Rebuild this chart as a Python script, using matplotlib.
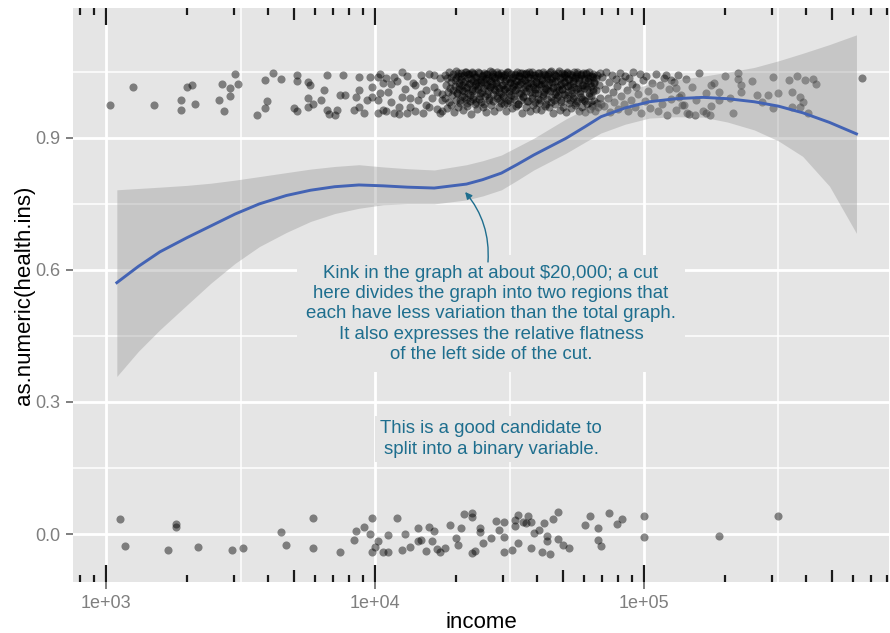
import matplotlib.pyplot as plt
import numpy as np

plt.rcParams['font.family'] = ['Liberation Sans', 'DejaVu Sans']

# smooth fit, x as log10(income)
fit_log_income = [3.04, 3.12, 3.20, 3.30, 3.39, 3.48, 3.57, 3.67, 3.76, 3.85, 3.94, 4.03,
                  4.12, 4.22, 4.34, 4.40, 4.47, 4.53, 4.59, 4.65, 4.71, 4.78, 4.84, 4.93,
                  5.02, 5.12, 5.22, 5.31, 5.41, 5.50, 5.59, 5.69, 5.79]
fit_mean = [0.571, 0.608, 0.641, 0.673, 0.700, 0.727, 0.750, 0.769, 0.781, 0.789, 0.793, 0.791,
            0.788, 0.786, 0.795, 0.805, 0.820, 0.840, 0.861, 0.880, 0.899, 0.925, 0.948, 0.968,
            0.982, 0.989, 0.992, 0.989, 0.982, 0.972, 0.957, 0.935, 0.909]
fit_upper = [0.782, 0.785, 0.788, 0.792, 0.797, 0.804, 0.812, 0.821, 0.829, 0.835, 0.839, 0.834,
             0.830, 0.827, 0.839, 0.848, 0.861, 0.880, 0.899, 0.921, 0.943, 0.965, 0.986, 1.006,
             1.022, 1.032, 1.040, 1.049, 1.060, 1.075, 1.092, 1.112, 1.134]
fit_lower = [0.358, 0.415, 0.464, 0.520, 0.570, 0.615, 0.653, 0.685, 0.710, 0.728, 0.740, 0.748,
             0.750, 0.750, 0.759, 0.768, 0.782, 0.804, 0.827, 0.846, 0.865, 0.890, 0.911, 0.931,
             0.945, 0.948, 0.947, 0.936, 0.918, 0.893, 0.858, 0.790, 0.683]

# jittered points, insured customers (around 1)
top_log_income = [
    3.015, 3.10, 3.18, 3.28, 3.28, 3.30, 3.32, 3.33, 3.42, 3.43, 3.44, 3.46, 3.46, 3.48, 3.49,
    3.56, 3.59, 3.59, 3.60, 3.62, 3.65, 3.70, 3.71, 3.71, 3.71, 3.75, 3.75, 3.76, 3.75, 3.77,
    3.80, 3.81, 3.82, 3.82, 3.83, 3.85, 3.86, 3.87, 3.88, 3.89, 3.92, 3.93, 3.94, 3.94, 3.94,
    3.96, 3.97, 3.98, 3.99, 3.99, 4.01, 4.01, 4.01, 4.02, 4.03, 4.03, 4.04, 4.06, 4.06, 4.07,
    4.07, 4.09, 4.10, 4.10, 4.12, 4.13, 4.14, 4.16, 4.17, 4.18, 4.19, 4.20, 4.22, 4.23, 4.24,
    4.25, 4.02, 4.04, 4.05, 4.08, 4.09, 4.11, 4.12, 4.13, 4.15, 4.15, 4.17, 4.18, 4.19, 4.20,
    4.21, 4.22, 4.23, 4.24, 4.25, 4.25,
    4.260, 4.262, 4.265, 4.266, 4.269, 4.271, 4.274, 4.275, 4.278, 4.281, 4.283, 4.284,
    4.287, 4.290, 4.291, 4.294, 4.296, 4.299, 4.301, 4.302, 4.305, 4.308, 4.309, 4.312,
    4.314, 4.316, 4.319, 4.321, 4.322, 4.325, 4.328, 4.330, 4.331, 4.334, 4.337, 4.338,
    4.341, 4.343, 4.346, 4.347, 4.350, 4.353, 4.354, 4.357, 4.359, 4.362, 4.363, 4.366,
    4.368, 4.371, 4.373, 4.374, 4.377, 4.380, 4.382, 4.383, 4.386, 4.389, 4.390, 4.393,
    4.395, 4.398, 4.400, 4.401, 4.404, 4.407, 4.408, 4.411, 4.413, 4.416, 4.417, 4.420,
    4.422, 4.425, 4.427, 4.428, 4.431, 4.434, 4.435, 4.438, 4.440, 4.443, 4.444, 4.447,
    4.449, 4.452, 4.454, 4.455, 4.458, 4.461, 4.462, 4.465, 4.467, 4.470, 4.471, 4.474,
    4.476, 4.479, 4.481, 4.482, 4.485, 4.488, 4.489, 4.492, 4.494, 4.497, 4.498, 4.501,
    4.503, 4.506, 4.508, 4.509, 4.512, 4.515, 4.516, 4.519, 4.521, 4.524, 4.525, 4.528,
    4.530, 4.533, 4.535, 4.536, 4.539, 4.542, 4.543, 4.546, 4.548, 4.551, 4.552, 4.555,
    4.557, 4.560, 4.562, 4.563, 4.566, 4.569, 4.570, 4.573, 4.575, 4.578, 4.579, 4.582,
    4.584, 4.587, 4.589, 4.590, 4.593, 4.596, 4.597, 4.600, 4.602, 4.605, 4.606, 4.609,
    4.611, 4.614, 4.616, 4.617, 4.620, 4.623, 4.624, 4.627, 4.629, 4.632, 4.633, 4.636,
    4.638, 4.641, 4.643, 4.644, 4.647, 4.650, 4.651, 4.654, 4.656, 4.659, 4.660, 4.663,
    4.665, 4.668, 4.670, 4.671, 4.674, 4.677, 4.678, 4.681, 4.683, 4.686, 4.687, 4.690,
    4.692, 4.695, 4.697, 4.698, 4.701, 4.704, 4.705, 4.708, 4.710, 4.713, 4.714, 4.717,
    4.719, 4.722, 4.724, 4.725, 4.728, 4.731, 4.732, 4.735, 4.737, 4.740, 4.741, 4.744,
    4.746, 4.749, 4.751, 4.752, 4.755, 4.758, 4.759, 4.762, 4.764, 4.767, 4.768, 4.771,
    4.773, 4.776, 4.778, 4.779, 4.782, 4.785, 4.786, 4.789, 4.791, 4.794, 4.795, 4.798,
    4.800, 4.803, 4.805, 4.806, 4.809, 4.812, 4.813, 4.816, 4.818, 4.821, 4.822, 4.825,
    4.827, 4.830, 4.832, 4.835, 4.838, 4.840,
    4.845, 4.851, 4.856, 4.860, 4.866, 4.871, 4.875, 4.880, 4.886, 4.890, 4.895, 4.901,
    4.905, 4.911, 4.916, 4.920, 4.926, 4.931, 4.935, 4.941, 4.946, 4.950, 4.956, 4.961,
    4.967, 4.972, 4.978, 4.984, 4.990, 4.996, 5.003, 5.009, 5.016, 5.022, 5.030, 5.037,
    5.045, 5.052, 5.060, 5.068, 5.075, 5.084, 5.092, 5.100, 5.110, 5.119, 5.128, 5.138,
    5.148, 5.158, 5.168, 5.180, 5.192, 5.205, 5.218, 5.232, 5.246, 5.262,
    5.35, 5.35, 5.36, 5.36, 5.40, 5.33, 5.42, 5.44, 5.46, 5.48, 5.48, 5.50, 5.54, 5.55, 5.57,
    5.58, 5.59, 5.58, 5.60, 5.61, 5.63, 5.64, 5.55, 5.81, 5.28, 5.28, 5.25, 5.23, 5.19, 5.16,
    5.14, 5.13, 5.12, 5.10, 5.08, 5.30, 5.32, 5.25,
]
top_y = [
    0.975, 1.016, 0.975, 0.986, 0.964, 1.016, 1.020, 0.977, 0.986, 1.023, 0.961, 0.995, 1.014, 1.045, 1.023,
    0.952, 1.032, 0.968, 0.984, 1.048, 1.034, 0.968, 1.030, 1.043, 0.961, 0.970, 1.027, 1.020, 0.991, 0.977,
    0.986, 1.009, 1.043, 0.964, 0.955, 0.952, 0.964, 0.998, 1.043, 0.998, 0.964, 0.993, 1.039, 1.009, 0.970,
    0.957, 0.986, 1.039, 1.016, 0.993, 1.039, 0.986, 0.957, 1.002, 1.025, 0.964, 1.036, 0.982, 1.023, 0.957,
    1.039, 0.970, 1.050, 0.993, 0.957, 0.970, 1.025, 0.986, 1.043, 0.957, 1.009, 0.970, 1.043, 1.005, 0.957,
    0.986, 1.045, 0.960, 1.005, 1.030, 0.955, 1.010, 1.040, 0.990, 1.020, 0.960, 1.000, 1.030, 0.975, 1.045,
    0.990, 1.015, 0.965, 1.035, 1.000, 0.960,
    1.043, 0.991, 1.021, 0.968, 1.035, 1.004, 1.049, 0.982, 1.014, 1.039, 0.975, 1.027,
    0.997, 1.046, 1.009, 0.959, 1.031, 1.018, 0.986, 1.051, 1.002, 0.971, 1.040, 1.024,
    1.011, 0.979, 1.047, 1.033, 0.994, 1.020, 0.963, 1.042, 1.006, 1.029, 0.988, 1.050,
    1.016, 0.973, 1.037, 1.001, 1.045, 0.984, 1.025, 0.955, 1.012, 1.048, 0.993, 1.030,
    1.044, 1.008, 0.977, 1.022, 1.038, 0.965, 1.017, 1.050, 0.989, 1.034, 1.003, 1.026,
    0.981, 1.041, 1.013, 0.970, 1.047, 1.028, 0.996, 1.036, 0.958, 1.019, 1.045, 1.007,
    1.032, 0.985, 1.051, 1.015, 0.974, 1.040, 1.023, 0.999, 1.046, 0.962, 1.010, 1.037,
    1.027, 1.049, 0.990, 1.018, 1.042, 0.969, 1.005, 1.034, 0.980, 1.048, 1.021, 0.995,
    1.039, 1.011, 0.976, 1.044, 1.029, 0.960, 1.016, 1.050, 0.987, 1.033, 1.002, 1.025,
    0.983, 1.046, 1.014, 0.967, 1.038, 1.022, 0.994, 1.043, 1.008, 0.972, 1.030, 1.049,
    1.019, 0.978, 1.041, 1.003, 1.047, 0.986, 1.026, 0.957, 1.035, 1.012, 0.992, 1.044,
    1.031, 1.006, 0.970, 1.048, 1.020, 0.984, 1.039, 1.013, 0.961, 1.045, 1.024, 0.998,
    1.050, 1.015, 0.975, 1.036, 1.001, 1.043, 0.966, 1.028, 1.010, 0.989, 1.047, 1.022,
    0.980, 1.040, 1.017, 0.963, 1.032, 1.049, 0.995, 1.025, 1.004, 0.973, 1.042, 1.011,
    1.037, 0.988, 1.046, 1.019, 0.969, 1.034, 1.007, 1.051, 0.982, 1.027, 0.956, 1.014,
    1.044, 1.000, 1.029, 0.977, 1.041, 1.016, 0.992, 1.048, 1.009, 0.964, 1.035, 1.023,
    0.985, 1.047, 1.012, 0.971, 1.039, 1.026, 0.997, 1.043, 0.959, 1.018, 1.050, 1.005,
    1.033, 0.979, 1.045, 1.021, 0.968, 1.038, 1.002, 1.030, 0.990, 1.049, 1.015, 0.974,
    1.040, 1.010, 0.983, 1.046, 1.024, 0.962, 1.036, 1.006, 1.042, 0.993, 1.020, 0.970,
    1.048, 1.013, 0.987, 1.031, 0.958, 1.044, 1.017, 0.978, 1.037, 1.003, 1.050, 0.966,
    1.025, 0.995, 1.041, 0.973, 1.011, 1.046, 0.984, 1.028, 0.961, 1.035, 1.008, 0.980,
    1.043, 0.969, 1.019, 0.990, 1.047, 0.976,
    1.038, 0.972, 1.012, 1.049, 0.990, 1.026, 0.958, 1.043, 1.004, 0.981, 1.034, 1.018,
    0.966, 1.047, 0.995, 1.029, 0.976, 1.041, 1.009, 0.962, 1.036, 0.987, 1.022, 1.050,
    0.970, 1.015, 0.999, 1.044, 0.957, 1.031, 0.983, 1.040, 1.006, 0.968, 1.025, 0.993,
    1.046, 0.960, 1.019, 0.978, 1.037, 0.952, 1.010, 0.988, 1.028, 0.964, 1.043, 0.997,
    0.975, 1.033, 0.955, 1.016, 0.985, 1.047, 0.962, 1.003, 0.953, 1.024,
    1.048, 1.034, 1.020, 1.005, 1.030, 0.957, 0.998, 0.982, 0.998, 1.039, 0.968, 1.002, 1.032, 1.005, 1.041,
    0.993, 0.982, 0.970, 1.032, 0.957, 1.034, 1.023, 0.970, 1.036, 1.005, 0.986, 0.973, 0.957, 0.952, 0.957,
    0.975, 0.993, 1.014, 1.032, 1.043, 1.041, 0.991, 1.020,
]

# the darkest stretch of the insured band, roughly $20k-$65k
dense_log_income = [
    4.301, 4.305, 4.308, 4.312, 4.316, 4.319, 4.323, 4.326, 4.330, 4.334, 4.337, 4.341,
    4.344, 4.348, 4.352, 4.355, 4.359, 4.362, 4.366, 4.370, 4.373, 4.377, 4.380, 4.384,
    4.388, 4.391, 4.395, 4.398, 4.402, 4.406, 4.409, 4.413, 4.416, 4.420, 4.424, 4.427,
    4.431, 4.434, 4.438, 4.442, 4.445, 4.449, 4.452, 4.456, 4.460, 4.463, 4.467, 4.470,
    4.474, 4.478, 4.481, 4.485, 4.488, 4.492, 4.496, 4.499, 4.503, 4.506, 4.510, 4.514,
    4.517, 4.521, 4.524, 4.528, 4.532, 4.535, 4.539, 4.542, 4.546, 4.550, 4.553, 4.557,
    4.560, 4.564, 4.568, 4.571, 4.575, 4.578, 4.582, 4.586, 4.589, 4.593, 4.596, 4.600,
    4.604, 4.607, 4.611, 4.614, 4.618, 4.622, 4.625, 4.629, 4.632, 4.636, 4.640, 4.643,
    4.647, 4.650, 4.654, 4.658, 4.661, 4.665, 4.668, 4.672, 4.676, 4.679, 4.683, 4.686,
    4.690, 4.694, 4.697, 4.701, 4.704, 4.708, 4.712, 4.715, 4.719, 4.722, 4.726, 4.730,
    4.733, 4.737, 4.740, 4.744, 4.748, 4.751, 4.755, 4.758, 4.762, 4.766, 4.769, 4.773,
    4.776, 4.780, 4.784, 4.787, 4.791, 4.794, 4.798, 4.802, 4.805, 4.809, 4.812, 4.816,
]
dense_y = [
    1.036, 1.002, 1.047, 1.018, 0.985, 1.041, 1.009, 1.028, 0.993, 1.050, 1.014, 0.979,
    1.044, 1.023, 0.997, 1.033, 1.006, 1.049, 0.988, 1.019, 1.039, 0.981, 1.026, 1.011,
    1.048, 0.995, 1.031, 1.004, 1.042, 0.977, 1.021, 1.045, 1.000, 1.035, 0.990, 1.016,
    1.029, 1.050, 0.983, 1.038, 1.008, 1.024, 0.996, 1.046, 1.013, 0.986, 1.040, 1.003,
    1.020, 0.992, 1.043, 1.012, 1.034, 0.980, 1.049, 1.007, 1.027, 0.998, 1.037, 1.017,
    0.989, 1.045, 1.010, 1.030, 0.976, 1.041, 1.022, 1.001, 1.048, 0.994, 1.032, 1.015,
    1.044, 0.984, 1.025, 1.050, 1.005, 1.036, 0.991, 1.019, 1.042, 1.011, 0.982, 1.028,
    1.039, 1.002, 1.047, 0.987, 1.023, 1.033, 0.999, 1.046, 1.014, 0.978, 1.040, 1.008,
    1.026, 1.049, 0.993, 1.035, 1.016, 0.985, 1.043, 1.004, 1.030, 0.997, 1.051, 1.020,
    0.981, 1.038, 1.012, 1.045, 1.000, 1.027, 0.990, 1.048, 1.018, 1.034, 0.986, 1.009,
    1.042, 1.024, 0.996, 1.037, 0.979, 1.050, 1.013, 1.031, 1.003, 1.044, 0.988, 1.021,
    1.035, 0.983, 1.047, 1.010, 1.029, 0.994, 1.041, 1.017, 0.977, 1.039, 1.006, 1.025,
]

# jittered points, uninsured customers (around 0)
bottom_log_income = [
    3.05, 3.07, 3.23, 3.26, 3.26, 3.34, 3.47, 3.51, 3.65, 3.67, 3.77, 3.77, 3.87, 3.92, 3.93,
    3.96, 3.98, 3.99, 3.99, 4.00, 4.01, 4.03, 4.05, 4.05, 4.08, 4.10, 4.11, 4.13, 4.16, 4.16,
    4.17, 4.19, 4.20, 4.21, 4.22, 4.23, 4.24, 4.26, 4.31, 4.32, 4.33, 4.36, 4.36, 4.36, 4.39,
    4.39, 4.37, 4.48, 4.48, 4.48, 4.51, 4.52, 4.52, 4.53, 4.55, 4.56, 4.58, 4.58, 4.59, 4.63,
    4.64, 4.64, 4.65, 4.68, 4.68, 4.72, 4.83, 4.83, 4.84, 4.87, 4.90, 4.92, 5.00, 5.00, 5.28,
    5.50, 4.43, 4.45, 4.53, 4.61, 4.66, 4.70, 4.78, 4.80, 4.28, 4.30, 4.40, 4.46, 4.57, 4.62,
]
bottom_y = [
    0.034, -0.027, -0.036, 0.023, 0.016, -0.030, -0.036, -0.032, 0.005, -0.025, 0.036, -0.032, -0.041, -0.014, 0.007,
    0.016, 0.000, 0.036, -0.041, -0.030, -0.016, -0.041, -0.002, -0.041, 0.036, -0.036, 0.000, -0.030, 0.014, -0.016,
    -0.014, -0.039, 0.016, -0.016, 0.007, -0.034, -0.041, -0.032, -0.025, 0.014, 0.045, 0.039, -0.043, 0.048, 0.005,
    0.014, -0.039, 0.027, -0.041, -0.007, -0.036, 0.018, 0.032, 0.043, 0.027, 0.025, -0.032, 0.027, 0.002, 0.025,
    -0.016, -0.005, -0.045, -0.011, 0.050, -0.032, 0.014, -0.014, -0.027, 0.048, 0.023, 0.034, 0.041, -0.007, -0.005,
    0.041, -0.010, 0.030, -0.020, 0.010, 0.035, -0.025, 0.020, 0.040, 0.020, -0.010, -0.020, 0.010, 0.040, -0.040,
]

# annotation_logticks style marks
logtick_short = [800, 900, 2000, 3000, 4000, 6000, 7000, 8000, 9000, 20000, 30000, 40000,
                 60000, 70000, 80000, 90000, 200000, 300000, 400000, 600000, 700000, 800000]
logtick_mid = [5000, 50000, 500000]
logtick_long = [1000, 10000, 100000]

panel_bg = '#E5E5E5'
note_color = '#1E6E8E'

fig = plt.figure(figsize=(8.9, 6.33), dpi=100)
ax = fig.add_axes([73 / 890, 51 / 633, 816 / 890, 574 / 633])
ax.set_facecolor(panel_bg)
for s in ax.spines.values():
    s.set_visible(False)

for lx, yy in [(top_log_income, top_y), (dense_log_income, dense_y),
               (bottom_log_income, bottom_y)]:
    ax.scatter(10 ** np.array(lx), yy, s=34, color='black', alpha=0.45,
               linewidths=0, zorder=2)

fx = 10 ** np.array(fit_log_income)
ax.fill_between(fx, fit_lower, fit_upper, color='#999999', alpha=0.4, linewidth=0, zorder=3)
ax.plot(fx, fit_mean, color='#4363B4', lw=2.1, zorder=4, solid_joinstyle='round')

ax.set_xscale('log')
ax.set_xlim(10 ** 2.877, 10 ** 5.911)
ax.set_ylim(-0.109, 1.195)

ax.set_xticks([1e3, 1e4, 1e5])
ax.set_xticklabels(['1e+03', '1e+04', '1e+05'])
ax.set_xticks([10 ** 3.5, 10 ** 4.5, 10 ** 5.5], minor=True)
ax.set_xticklabels([], minor=True)
ax.set_yticks([0, 0.3, 0.6, 0.9])
ax.set_yticklabels(['0.0', '0.3', '0.6', '0.9'])
ax.set_yticks([0.15, 0.45, 0.75, 1.05], minor=True)

ax.grid(which='major', color='white', lw=2.0)
ax.grid(which='minor', color='white', lw=1.1)
ax.set_axisbelow(True)
ax.tick_params(which='major', length=5, width=1.4, color='#7F7F7F', labelcolor='#7F7F7F',
               labelsize=13, pad=4)
ax.tick_params(which='minor', length=0)

xt = ax.get_xaxis_transform()
for ticks, frac in [(logtick_short, 0.012), (logtick_mid, 0.021), (logtick_long, 0.030)]:
    ax.vlines(ticks, 0, frac, transform=xt, color='#1A1A1A', lw=1.6, zorder=5)
    ax.vlines(ticks, 1 - frac, 1, transform=xt, color='#1A1A1A', lw=1.6, zorder=5)

ax.set_xlabel('income', fontsize=16, labelpad=0)
ax.set_ylabel('as.numeric(health.ins)', fontsize=16, labelpad=0)

ax.text(10 ** 4.431, 0.500,
        'Kink in the graph at about $20,000; a cut\n'
        'here divides the graph into two regions that\n'
        'each have less variation than the total graph.\n'
        'It also expresses the relative flatness\n'
        'of the left side of the cut.',
        ha='center', va='center', fontsize=13.4, color=note_color, linespacing=1.26,
        bbox=dict(boxstyle='square,pad=0.5', facecolor=panel_bg, edgecolor='none'), zorder=6)
ax.text(10 ** 4.431, 0.216,
        'This is a good candidate to\nsplit into a binary variable.',
        ha='center', va='center', fontsize=13.4, color=note_color, linespacing=1.26,
        bbox=dict(boxstyle='square,pad=0.25', facecolor=panel_bg, edgecolor='none'), zorder=6)
ax.annotate('', xy=(10 ** 4.335, 0.777), xytext=(10 ** 4.420, 0.618),
            arrowprops=dict(arrowstyle='-|>', color=note_color, lw=1.0, mutation_scale=10,
                            shrinkA=0, shrinkB=0, connectionstyle='arc3,rad=0.2'),
            zorder=6)

fig.savefig('out.png', dpi=100)
